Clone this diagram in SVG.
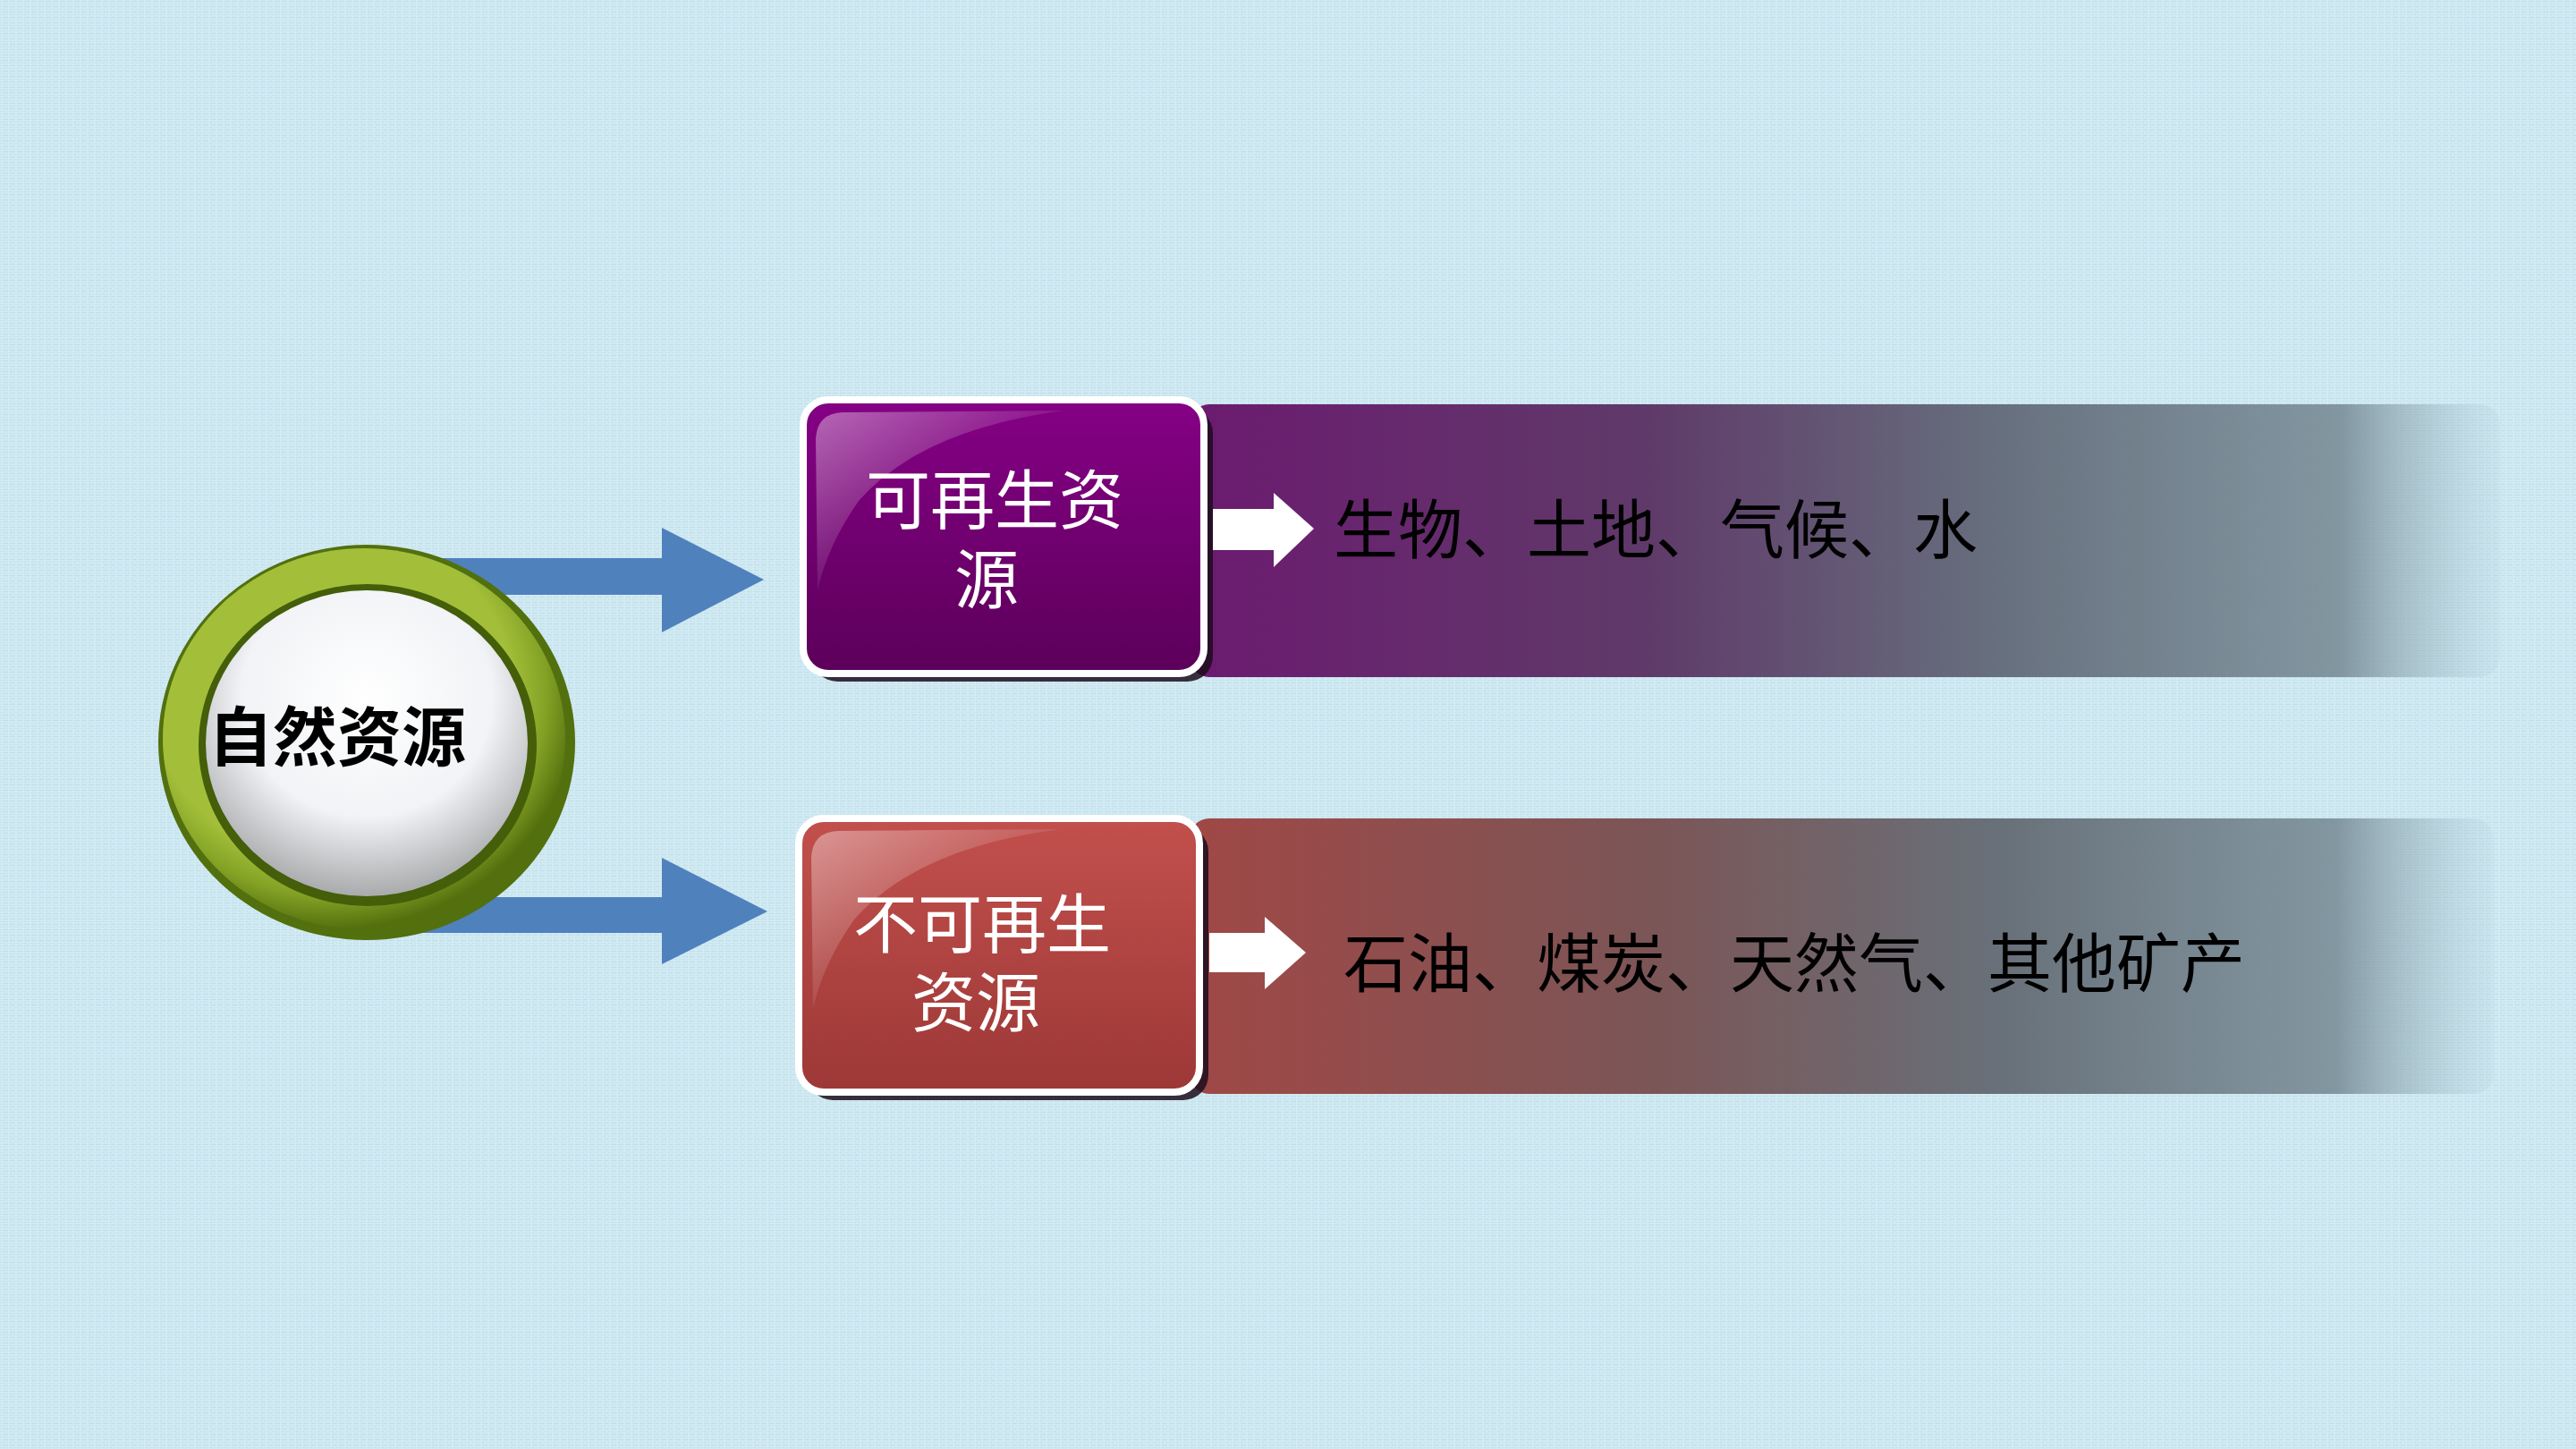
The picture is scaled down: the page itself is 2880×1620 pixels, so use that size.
<svg xmlns="http://www.w3.org/2000/svg" width="2880" height="1620" viewBox="0 0 2880 1620">
<defs>
<style>
.cjk{font-family:"Noto Sans CJK SC","Noto Sans",sans-serif;}
.boxlabel{font-size:72px;fill:#ffffff;text-anchor:middle;}
.bandlabel{font-size:72px;fill:#000000;}
.blue{fill:#4f81bd;}
.white{fill:#ffffff;}
.shadow{fill:#1c0d1c;opacity:0.85;}
</style>
<pattern id="tex" width="8" height="6" patternUnits="userSpaceOnUse">
<rect width="8" height="6" fill="#cfe9f2"/>
<path d="M0 1.5H8M0 4.5H5" stroke="#c1dfea" stroke-width="1"/>
<path d="M2 0V6" stroke="#dbf0f7" stroke-width="1"/>
</pattern>
<linearGradient id="purpleFill" x1="0" y1="0" x2="0" y2="1">
<stop offset="0" stop-color="#850085"/>
<stop offset="1" stop-color="#5c005a"/>
</linearGradient>
<linearGradient id="redFill" x1="0" y1="0" x2="0" y2="1">
<stop offset="0" stop-color="#c2504d"/>
<stop offset="1" stop-color="#9c3836"/>
</linearGradient>
<linearGradient id="gloss" x1="0" y1="0" x2="1" y2="1">
<stop offset="0" stop-color="#ffffff" stop-opacity="0.4"/>
<stop offset="0.5" stop-color="#ffffff" stop-opacity="0.08"/>
<stop offset="1" stop-color="#000000" stop-opacity="0.3"/>
</linearGradient>
<linearGradient id="band1" x1="0" y1="0" x2="1" y2="0">
<stop offset="0" stop-color="#6c1a70"/>
<stop offset="0.35" stop-color="#5f3a69"/>
<stop offset="0.62" stop-color="#67707e"/>
<stop offset="0.88" stop-color="#7a8e98" stop-opacity="0.9"/>
<stop offset="1" stop-color="#a9c8d2" stop-opacity="0.15"/>
</linearGradient>
<linearGradient id="band2" x1="0" y1="0" x2="1" y2="0">
<stop offset="0" stop-color="#a04846"/>
<stop offset="0.35" stop-color="#7c5556"/>
<stop offset="0.62" stop-color="#687079"/>
<stop offset="0.88" stop-color="#7a8e98" stop-opacity="0.9"/>
<stop offset="1" stop-color="#a9c8d2" stop-opacity="0.15"/>
</linearGradient>
<radialGradient id="ring" cx="0.42" cy="0.38" r="0.62">
<stop offset="0.72" stop-color="#a3bf3a"/>
<stop offset="0.86" stop-color="#83a225"/>
<stop offset="1" stop-color="#536f0e"/>
</radialGradient>
<radialGradient id="ball" cx="0.5" cy="0.35" r="0.65">
<stop offset="0" stop-color="#ffffff"/>
<stop offset="0.6" stop-color="#f1f3f6"/>
<stop offset="1" stop-color="#a9aaac"/>
</radialGradient>
</defs>
<rect width="2880" height="1620" fill="url(#tex)"/>

<g id="connectors">
<path class="blue" d="M480 624 H740 V590 L854 648 L740 707 V665 H480 Z"/>
<path class="blue" d="M460 1003 H740 V959 L858 1019 L740 1078 V1043 H460 Z"/>
</g>

<g id="node-root">
<ellipse cx="410" cy="830" rx="233" ry="221" fill="#52700e"/>
<ellipse cx="407" cy="826" rx="225" ry="213" fill="url(#ring)"/>
<ellipse cx="411" cy="833" rx="189" ry="180" fill="#445e0a"/>
<ellipse cx="410" cy="831" rx="180" ry="171" fill="url(#ball)"/>
<text class="cjk" x="377" y="850" font-size="72" font-weight="bold" text-anchor="middle" fill="#000">自然资源</text>
</g>

<g id="node-renewable-band">
<rect x="1330" y="452" width="1465" height="305" rx="22" fill="url(#band1)"/>
<text class="cjk bandlabel" x="1491" y="618">生物、土地、气候、水</text>
</g>

<g id="node-nonrenewable-band">
<rect x="1330" y="915" width="1458" height="308" rx="22" fill="url(#band2)"/>
<text class="cjk bandlabel" x="1502" y="1103">石油、煤炭、天然气、其他矿产</text>
</g>

<g id="node-renewable">
<rect class="shadow" x="908" y="456" width="448" height="306" rx="28"/>
<rect x="898" y="447" width="448" height="306" rx="28" fill="url(#purpleFill)" stroke="#ffffff" stroke-width="8"/>
<path d="M912 490 Q914 462 942 461 L1190 459 Q1030 480 960 560 Q925 610 914 660 Z" fill="url(#gloss)"/>
<text class="cjk boxlabel"><tspan x="1112" y="585">可再生资</tspan><tspan x="1103" y="674">源</tspan></text>
</g>

<g id="node-nonrenewable">
<rect class="shadow" x="903" y="924" width="448" height="306" rx="28"/>
<rect x="893" y="915" width="448" height="306" rx="28" fill="url(#redFill)" stroke="#ffffff" stroke-width="8"/>
<path d="M907 958 Q909 930 937 929 L1185 927 Q1025 948 955 1028 Q920 1078 909 1128 Z" fill="url(#gloss)"/>
<text class="cjk boxlabel"><tspan x="1098" y="1059">不可再生</tspan><tspan x="1091" y="1147">资源</tspan></text>
</g>

<g id="connectors-white">
<path class="white" d="M1356 569 H1424 V551 L1469 591 L1424 634 V615 H1356 Z"/>
<path class="white" d="M1352 1043 H1414 V1025 L1460 1065 L1414 1106 V1087 H1352 Z"/>
</g>
</svg>
